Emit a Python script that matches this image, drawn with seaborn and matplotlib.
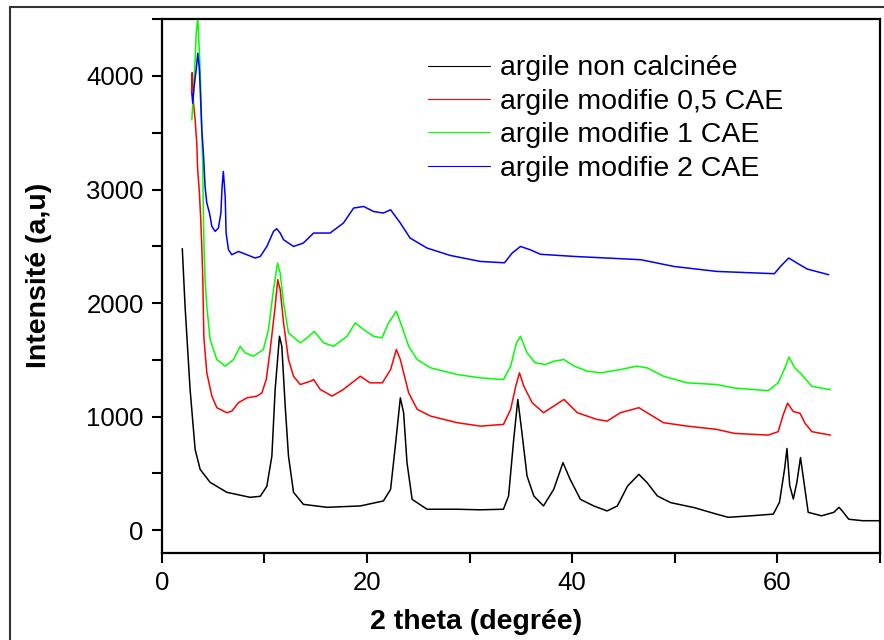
import matplotlib
matplotlib.use("Agg")
import matplotlib.pyplot as plt
import pandas as pd
import seaborn as sns
from matplotlib.patches import Rectangle
from matplotlib.ticker import MultipleLocator


SAMPLES = [
    "argile non calcinée",
    "argile modifie 0,5 CAE",
    "argile modifie 1 CAE",
    "argile modifie 2 CAE",
]
COLORS = ["#000000", "#ff0000", "#00ff00", "#0000ff"]

x_brut = [2.00, 2.27, 2.76, 3.25, 3.74, 4.71, 6.34, 8.60, 9.60, 10.24,
          10.73, 11.05, 11.47, 11.70, 12.03, 12.35, 12.84, 13.80, 16.10, 19.35,
          21.60, 22.30, 22.76, 23.25, 23.57, 23.90, 24.40, 25.85, 28.80, 31.00,
          33.30, 33.80, 34.30, 34.70, 35.10, 35.60, 36.26, 37.20, 38.20, 39.10,
          39.80, 40.80, 42.10, 43.40, 44.40, 45.40, 46.50, 47.30, 48.30, 49.60,
          51.90, 54.10, 55.20, 57.40, 59.60, 60.20, 60.70, 60.93, 61.20, 61.55,
          61.90, 62.25, 62.54, 63.00, 64.30, 65.50, 66.00, 66.30, 66.95, 68.30,
          70.30]
y_brut = [2480, 1972, 1240, 712, 536, 422, 334, 290, 299, 387,
          653, 1240, 1708, 1620, 1093, 653, 334, 228, 202, 214,
          258, 360, 741, 1166, 1035, 595, 272, 185, 185, 180,
          185, 302, 800, 1152, 860, 477, 302, 214, 360, 595,
          448, 272, 214, 170, 214, 390, 492, 419, 302, 243,
          199, 141, 114, 127, 142, 246, 541, 720, 394, 275,
          424, 640, 453, 158, 127, 158, 202, 172, 97, 84,
          84]

x_05 = [2.90, 2.97, 3.05, 3.25, 3.41, 3.50, 3.67, 3.80, 3.90, 4.00,
        4.10, 4.39, 4.88, 5.37, 6.34, 6.83, 7.47, 8.30, 9.27, 9.76,
        10.18, 10.57, 11.05, 11.30, 11.54, 11.87, 12.35, 12.84, 13.50, 14.47,
        14.80, 15.44, 16.60, 17.70, 19.35, 20.30, 21.50, 22.30, 22.86, 23.25,
        24.06, 24.90, 26.20, 28.80, 31.05, 33.30, 34.00, 34.50, 34.86, 35.28,
        36.10, 37.20, 38.20, 39.20, 40.50, 42.40, 43.40, 44.70, 46.50, 47.30,
        48.90, 51.20, 54.10, 55.80, 59.10, 60.07, 60.56, 60.99, 61.55, 62.20,
        62.70, 63.36, 65.16]
y_05 = [3850, 4030, 3800, 3613, 3408, 3174, 2969, 2734, 2500, 2207,
        1700, 1386, 1181, 1079, 1035, 1049, 1123, 1166, 1181, 1210,
        1327, 1591, 1972, 2207, 2119, 1826, 1503, 1356, 1283, 1312,
        1327, 1240, 1181, 1240, 1356, 1298, 1298, 1415, 1591, 1503,
        1210, 1064, 1005, 947, 917, 932, 1064, 1269, 1386, 1269,
        1123, 1035, 1093, 1152, 1035, 976, 961, 1035, 1079, 1035,
        947, 917, 888, 853, 838, 868, 1015, 1119, 1045, 1030,
        941, 868, 838]

x_1 = [2.93, 3.08, 3.25, 3.35, 3.51, 3.67, 3.80, 3.90, 4.00, 4.06,
       4.13, 4.22, 4.39, 4.71, 5.37, 6.18, 6.99, 7.64, 8.13, 8.94,
       9.90, 10.40, 10.89, 11.28, 11.54, 11.87, 12.35, 13.50, 14.15, 14.86,
       15.77, 16.74, 18.05, 18.86, 19.67, 20.64, 21.46, 22.10, 22.86, 23.40,
       24.06, 24.90, 26.20, 28.80, 31.05, 33.30, 34.00, 34.57, 34.96, 35.60,
       36.40, 37.40, 38.20, 39.20, 40.20, 41.50, 42.80, 44.70, 46.30, 47.30,
       48.90, 51.20, 54.10, 55.80, 59.10, 60.07, 60.73, 61.12, 61.70, 62.37,
       63.36, 65.16]
y_1 = [3613, 3848, 4141, 4375, 4510, 4200, 3906, 3525, 3174, 2734,
       2441, 2207, 1972, 1679, 1503, 1445, 1503, 1620, 1562, 1532,
       1591, 1767, 2119, 2353, 2265, 2002, 1738, 1650, 1694, 1752,
       1650, 1620, 1708, 1826, 1767, 1708, 1694, 1826, 1928, 1796,
       1620, 1503, 1430, 1371, 1342, 1327, 1445, 1650, 1708, 1562,
       1474, 1459, 1488, 1503, 1445, 1400, 1386, 1415, 1445, 1430,
       1356, 1298, 1283, 1252, 1229, 1297, 1429, 1524, 1429, 1371,
       1267, 1238]

x_2 = [2.93, 3.02, 3.15, 3.35, 3.51, 3.67, 3.80, 3.90, 4.06, 4.22,
       4.39, 4.65, 4.88, 5.20, 5.52, 5.76, 5.88, 6.00, 6.18, 6.27,
       6.50, 6.83, 7.47, 8.30, 9.10, 9.60, 10.24, 10.89, 11.20, 11.54,
       11.87, 12.84, 13.80, 14.80, 16.40, 17.70, 18.70, 19.67, 20.64, 21.60,
       22.30, 23.25, 24.20, 25.85, 28.10, 31.05, 33.40, 34.15, 34.96, 35.90,
       36.90, 40.20, 43.40, 46.70, 49.90, 54.10, 59.70, 60.30, 61.10, 61.90,
       62.90, 65.00]
y_2 = [3848, 3760, 3906, 4053, 4200, 4053, 3760, 3525, 3320, 3027,
       2881, 2793, 2676, 2632, 2661, 2793, 3027, 3159, 2940, 2617,
       2470, 2426, 2455, 2426, 2397, 2411, 2499, 2632, 2655, 2617,
       2558, 2499, 2529, 2617, 2617, 2705, 2837, 2851, 2807, 2793,
       2822, 2705, 2573, 2485, 2420, 2367, 2355, 2441, 2499, 2470,
       2430, 2411, 2397, 2382, 2323, 2279, 2259, 2323, 2397, 2353,
       2300, 2250]

X_TICKS = [0, 20, 40, 60]
Y_TICKS = [0, 1000, 2000, 3000, 4000]


def build_frame() -> pd.DataFrame:
    frames = []
    for name, xs, ys in zip(SAMPLES, [x_brut, x_05, x_1, x_2], [y_brut, y_05, y_1, y_2]):
        frames.append(pd.DataFrame({"two_theta": xs, "intensity": ys, "sample": name}))
    return pd.concat(frames, ignore_index=True)


df = build_frame()

sns.set_theme(style="ticks")
plt.rcParams["font.family"] = ["Liberation Sans", "DejaVu Sans"]
plt.rcParams["text.color"] = "black"

fig = plt.figure(figsize=(8.84, 6.4), dpi=100)
ax = fig.add_axes([0.183, 0.136, 0.8125, 0.834])

sns.lineplot(
    data=df, x="two_theta", y="intensity", hue="sample",
    palette=dict(zip(SAMPLES, COLORS)), estimator=None, errorbar=None,
    sort=False, linewidth=1.1, ax=ax,
)

ax.set_xlim(0, 70)
ax.set_ylim(-200, 4500)
ax.set_xticks(X_TICKS)
ax.set_yticks(Y_TICKS)
ax.xaxis.set_minor_locator(MultipleLocator(10))
ax.yaxis.set_minor_locator(MultipleLocator(500))
ax.tick_params(which="both", direction="out", length=7, width=1.5, color="black")
ax.tick_params(which="major", labelsize=18.5, pad=6, labelcolor="black")
for spine in ax.spines.values():
    spine.set_visible(True)
    spine.set_linewidth(1.6)
    spine.set_color("black")

ax.set_xlabel("2 theta (degrée)", fontsize=20.5, fontweight="bold", color="black")
ax.set_ylabel("Intensité (a,u)", fontsize=20.5, fontweight="bold", color="black")
ax.xaxis.set_label_coords(0.437, -0.105)
ax.yaxis.set_label_coords(-0.153, 0.52)

handles, labels = ax.get_legend_handles_labels()
leg = ax.legend(
    handles, labels, loc="upper left", bbox_to_anchor=(0.37, 0.932),
    frameon=False, fontsize=20.5, handlelength=2.2, handletextpad=0.35,
    labelspacing=0.26, borderpad=0, borderaxespad=0, labelcolor="black",
)
for line in leg.get_lines():
    line.set_linewidth(0.8)

# cadre extérieur de la figure
fig.patches.append(Rectangle((10 / 884, -0.1), 1.2, 1.089, transform=fig.transFigure,
                             fill=False, lw=1.5, ec="#333333"))

fig.savefig("out.png", dpi=100)
